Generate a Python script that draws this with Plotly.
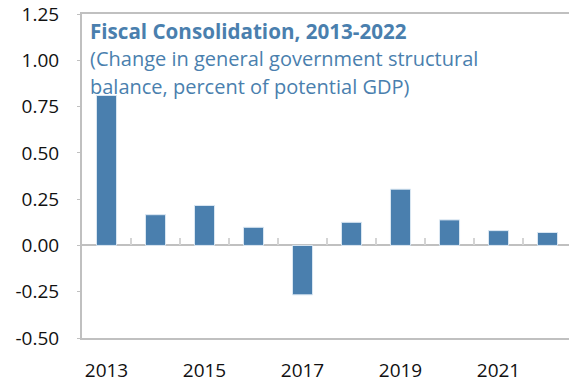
import plotly.graph_objects as go

years = ["2013", "2014", "2015", "2016", "2017", "2018", "2019", "2020", "2021", "2022"]
values = [0.81, 0.166, 0.216, 0.098, -0.267, 0.125, 0.304, 0.138, 0.080, 0.070]
tick_years = ["2013", "2015", "2017", "2019", "2021"]
y_ticks = [-0.5, -0.25, 0.0, 0.25, 0.5, 0.75, 1.0, 1.25]
title_lines = [
    "<b>Fiscal Consolidation, 2013-2022</b>",
    "(Change in general government structural",
    "balance, percent of potential GDP)",
]

BLUE = "#4a7fae"
GRAY = "#c0c0c0"
FONT = "Open Sans"
TICK_SIZE = 19
TITLE_SIZES = [20.6, 20, 20]

xpos = list(range(len(years)))

fig = go.Figure()
fig.add_trace(go.Bar(
    x=xpos, y=values, width=0.41,
    marker=dict(color=BLUE, line=dict(color="#dce8f3", width=1)),
    hoverinfo="skip",
))

xr = [-0.5, len(years) - 0.5 - 3 / 49]

fig.update_layout(
    width=569, height=383,
    margin=dict(l=82, r=0, t=14, b=43),
    plot_bgcolor="white", paper_bgcolor="white",
    showlegend=False,
    font=dict(family=FONT, size=TICK_SIZE, color="#111111"),
    xaxis=dict(
        range=xr, tickmode="array",
        tickvals=[years.index(y) for y in tick_years], ticktext=tick_years,
        ticks="", showgrid=False, zeroline=False,
        showline=True, linecolor=GRAY, linewidth=2, mirror=True,
        tickfont=dict(size=TICK_SIZE), ticklabelstandoff=14,
    ),
    xaxis2=dict(
        overlaying="x", anchor="free", position=0.5 / 1.75,
        range=xr, tickmode="array",
        tickvals=[i + 0.5 for i in xpos[:-1]],
        ticks="inside", ticklen=7, tickwidth=2, tickcolor="#d4d4d4",
        showticklabels=False, showgrid=False, zeroline=False, showline=False,
    ),
    yaxis=dict(
        range=[-0.5, 1.25], tickmode="array", tickvals=y_ticks,
        ticktext=["{:.2f}".format(v) for v in y_ticks],
        ticks="outside", ticklen=3, tickwidth=1, tickcolor=GRAY,
        showgrid=False, zeroline=True, zerolinecolor=GRAY, zerolinewidth=2,
        showline=True, linecolor=GRAY, linewidth=2,
        tickfont=dict(size=TICK_SIZE), ticklabelstandoff=14,
    ),
)

# invisible trace so xaxis2 renders
fig.add_trace(go.Scatter(x=[xr[0]], y=[0], xaxis="x2", mode="markers",
                         marker=dict(opacity=0), hoverinfo="skip"))

ys = [0.948, 0.862, 0.777]
for txt, yy, sz in zip(title_lines, ys, TITLE_SIZES):
    fig.add_annotation(
        text=txt, xref="paper", yref="paper", x=0.012, y=yy,
        xanchor="left", yanchor="middle", align="left", showarrow=False,
        font=dict(family=FONT, size=sz, color=BLUE),
    )

fig.write_html("out.html", config={"displayModeBar": False},
               post_script="document.body.style.margin='0';")
